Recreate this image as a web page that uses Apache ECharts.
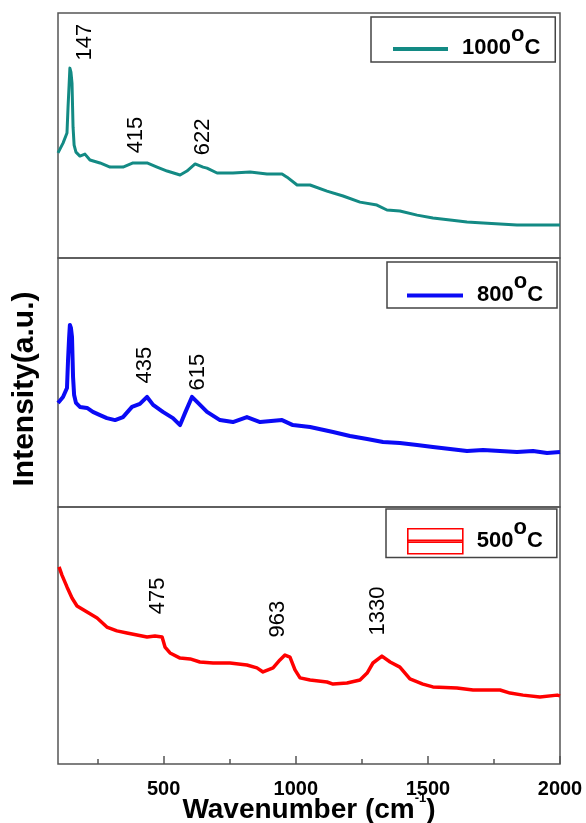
<!DOCTYPE html>
<html><head><meta charset="utf-8">
<script src="https://cdn.jsdelivr.net/npm/echarts@6/dist/echarts.min.js"></script>
<style>html,body{margin:0;padding:0;background:#fff}#c{width:586px;height:823px}</style>
</head><body><div id="c"></div><script>
// ---- data (wavenumber in cm-1, intensity in arbitrary units, each panel 0..100) ----
const wn1000  = [100,119,134,138,142,145,149,153,157,161,168,183,202,221,259,297,346,384,437,475,513,562,588,619,649,664,702,762,827,891,948,967,1005,1054,1118,1179,1243,1307,1345,1394,1459,1519,1584,1648,1709,1773,1837,1898,2000];
const int1000 = [42.9,46.9,51.0,61.6,70.6,77.5,75.9,71.4,53.4,46.1,43.2,41.6,42.4,40.0,38.8,37.1,37.1,38.8,38.8,37.1,35.5,33.9,35.5,38.4,37.1,36.7,34.7,34.7,35.1,34.3,34.3,33.0,29.8,29.8,27.3,25.3,22.8,21.6,19.6,19.2,17.5,16.3,15.5,14.7,14.3,13.9,13.5,13.5,13.5];

const wn800  = [100,119,134,138,142,145,149,153,157,161,168,183,210,232,259,285,316,346,380,410,437,460,497,535,562,581,607,630,664,713,762,815,865,948,989,1054,1141,1205,1270,1330,1394,1459,1519,1584,1648,1709,1773,1837,1898,1951,2000];
const int800 = [41.8,44.2,47.8,59.0,67.9,73.1,71.9,68.3,52.2,45.0,41.8,40.2,39.8,38.2,36.9,35.7,34.9,36.1,40.2,41.4,44.2,41.0,38.2,35.7,32.9,37.8,44.2,41.8,38.2,34.9,34.1,36.1,34.1,34.9,32.9,32.1,30.1,28.5,27.3,26.1,25.7,24.9,24.1,23.3,22.5,22.9,22.5,22.1,22.5,21.7,22.1];

const wn500  = [104,115,134,153,172,210,248,285,323,361,399,437,467,494,505,524,562,600,637,687,751,815,853,876,914,940,959,978,997,1016,1054,1118,1141,1194,1243,1270,1292,1326,1357,1394,1432,1481,1519,1610,1671,1773,1811,1860,1924,1989,2000];
const int500 = [76.7,73.5,68.9,64.6,61.5,59.1,56.8,53.3,51.8,51.0,50.2,49.4,49.8,49.4,45.5,43.2,41.2,40.9,39.7,39.3,39.3,38.5,37.4,35.8,37.4,40.5,42.4,41.6,36.6,33.5,32.7,31.9,31.1,31.5,32.7,35.4,39.3,42.0,39.7,37.7,33.1,31.1,30.0,29.6,28.8,28.8,27.6,26.8,26.1,26.8,26.5];

// peak annotations: label text and anchor (wavenumber, intensity) of the label centre
const peakText1000 = ['147','415','622'];
const peakX1000    = [202,395,647];
const peakY1000    = [88.1,50.2,49.4];
const peakText800  = ['435','615'];
const peakX800     = [429,630];
const peakY800     = [57.0,54.2];
const peakText500  = ['475','963','1330'];
const peakX500     = [477,931,1311];
const peakY500     = [65.4,56.4,59.5];

const seriesNames = ['1000°C','800°C','500°C'];
const xTicks      = [500,1000,1500,2000];
const xMinorTicks = [250,750,1250,1750];

// ---- chart ----
const FONT = "'Liberation Sans', Arial, sans-serif";
const colors = ['#138a84','#0a0af5','#ff0000'];
const chart = echarts.init(document.getElementById('c'), null, {renderer:'canvas'});

function pairs(xs, ys){ return xs.map((x,i)=>[x, ys[i]]); }
function marks(txt, xs, ys){
  return {
    symbol:'circle', symbolSize:1, silent:true,
    itemStyle:{color:'rgba(0,0,0,0)'},
    label:{show:true, position:'inside', rotate:90, color:'#000', fontFamily:FONT, fontSize:22, fontWeight:'normal', formatter:p=>p.name},
    data: txt.map((t,i)=>({name:t, coord:[xs[i], ys[i]]}))
  };
}
const gridBase = {left:58, right:26, show:true, borderColor:'#555', borderWidth:1.5, backgroundColor:'rgba(0,0,0,0)', containLabel:false, outerBoundsMode:'none'};
const xBase = (gi)=>({type:'value', gridIndex:gi, min:100, max:2000, position:'bottom',
  axisLine:{show:false}, axisTick:{show:false}, axisLabel:{show:false}, splitLine:{show:false}});
const yBase = (gi)=>({type:'value', gridIndex:gi, min:0, max:100,
  axisLine:{show:false}, axisTick:{show:false}, axisLabel:{show:false}, splitLine:{show:false}});

const legendRich = {
  n:{fontFamily:FONT, fontSize:22, fontWeight:'bold', color:'#000', lineHeight:35, verticalAlign:'bottom'},
  o:{fontFamily:FONT, fontSize:22, fontWeight:'bold', color:'#000', lineHeight:35, verticalAlign:'top'}
};
const legendFmt = name => '{n|' + name.replace('°C','') + '}{o|o}{n|C}';
function legend(name, left, top, pad, icon, w, h, itemStyle){
  return {
    data:[name], orient:'horizontal', left:left, top:top, padding:pad,
    borderColor:'#444', borderWidth:1.5, backgroundColor:'#fff',
    icon:icon, itemWidth:w, itemHeight:h, selectedMode:false,
    itemStyle:itemStyle,
    formatter:legendFmt,
    textStyle:{rich:legendRich, padding:[0,0,0,9]}
  };
}

const option = {
  animation:false,
  backgroundColor:'#fff',
  grid:[
    Object.assign({}, gridBase, {top:13, height:245}),
    Object.assign({}, gridBase, {top:258, height:249}),
    Object.assign({}, gridBase, {top:507, height:257})
  ],
  xAxis:[
    xBase(0), xBase(1),
    Object.assign(xBase(2), {
      axisLabel:{show:true, customValues:xTicks, formatter:v=>String(v), color:'#000', fontFamily:FONT, fontSize:20, fontWeight:'bold', margin:15},
      axisTick:{show:true, inside:true, length:8, customValues:xTicks, lineStyle:{color:'#555', width:1.5}},
      name:'{t|Wavenumber (cm}{s|-1}{t|)}', nameLocation:'middle', nameGap:28, nameMoveOverlap:false,
      nameTextStyle:{rich:{
        t:{fontFamily:FONT, fontSize:28, fontWeight:'bold', color:'#000', lineHeight:32, verticalAlign:'bottom'},
        s:{fontFamily:FONT, fontSize:13, fontWeight:'bold', color:'#000', lineHeight:32, verticalAlign:'top'}
      }}
    }),
    Object.assign(xBase(2), {
      axisTick:{show:true, inside:true, length:5, customValues:xMinorTicks, lineStyle:{color:'#555', width:1.5}}
    })
  ],
  yAxis:[
    yBase(0),
    Object.assign(yBase(1), {name:'Intensity(a.u.)', nameLocation:'middle', nameGap:16, nameRotate:90, nameMoveOverlap:false,
      nameTextStyle:{fontFamily:FONT, fontSize:30, fontWeight:'bold', color:'#000', lineHeight:34, padding:[0,13,0,0]}}),
    yBase(2)
  ],
  legend:[
    legend(seriesNames[0], 371, 17, [6.5,15,3.5,22], 'path://M0,0M0,16H55V20H0Z', 55, 20, {color:colors[0]}),
    legend(seriesNames[1], 387, 262, [8.5,14,2.5,20], 'path://M0,0M0,15H56V19H0Z', 56, 19, {color:colors[1]}),
    legend(seriesNames[2], 386, 509, [6,14,3,21], 'path://M0,0M0,13H55V38H0ZM0,24.6H55V26.4H0Z', 55, 38,
      {color:'rgba(0,0,0,0)', borderColor:colors[2], borderWidth:1.6})
  ],
  series:[
    {name:seriesNames[0], type:'line', xAxisIndex:0, yAxisIndex:0, data:pairs(wn1000,int1000),
     symbol:'none', lineStyle:{color:colors[0], width:3, join:'round'}, itemStyle:{color:colors[0]},
     markPoint:marks(peakText1000, peakX1000, peakY1000)},
    {name:seriesNames[1], type:'line', xAxisIndex:1, yAxisIndex:1, data:pairs(wn800,int800),
     symbol:'none', lineStyle:{color:colors[1], width:4, join:'round'}, itemStyle:{color:colors[1]},
     markPoint:marks(peakText800, peakX800, peakY800)},
    {name:seriesNames[2], type:'line', xAxisIndex:2, yAxisIndex:2, data:pairs(wn500,int500),
     symbol:'none', lineStyle:{color:colors[2], width:3.5, join:'round'}, itemStyle:{color:colors[2]},
     markPoint:marks(peakText500, peakX500, peakY500)}
  ]
};
chart.setOption(option);
</script></body></html>
